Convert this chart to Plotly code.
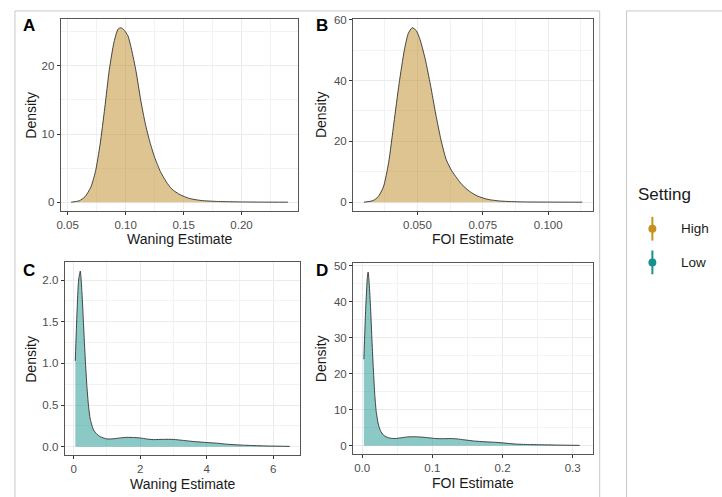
import plotly.graph_objects as go

# ---------------- data ----------------
settings = ["High", "Low"]
setting_colors = ["#C8911E", "#17918D"]

waning_high_x = [0.053, 0.060, 0.065, 0.070, 0.074, 0.078, 0.082, 0.086, 0.090, 0.0935, 0.096, 0.099,
                 0.102, 0.105, 0.109, 0.113, 0.117, 0.121, 0.125, 0.130, 0.135, 0.140, 0.147, 0.155,
                 0.165, 0.180, 0.200, 0.220, 0.240]
waning_high_y = [0, 0.2, 0.8, 2.2, 4.5, 8.5, 13.8, 19.5, 23.5, 25.4, 25.6, 25.2,
                 24.4, 22.5, 19.2, 15.0, 11.5, 8.8, 6.6, 4.5, 3.0, 1.9, 1.1, 0.55,
                 0.25, 0.10, 0.04, 0.01, 0]

foi_high_x = [0.0296, 0.033, 0.035, 0.037, 0.039, 0.041, 0.043, 0.045, 0.0465, 0.048, 0.0495, 0.051,
              0.053, 0.055, 0.057, 0.059, 0.061, 0.063, 0.065, 0.067, 0.070, 0.073, 0.077, 0.082,
              0.090, 0.100, 0.113]
foi_high_y = [0, 0.5, 1.8, 5, 13, 26, 39, 50, 55.5, 57.4, 56.5, 53.5,
              47, 38.5, 29, 20.5, 14, 10.5, 8, 5.8, 3.5, 2.0, 0.9, 0.35,
              0.1, 0.03, 0]

waning_low_x = [0.05, 0.10, 0.15, 0.20, 0.25, 0.30, 0.35, 0.40, 0.45, 0.50, 0.60, 0.70, 0.80, 1.0,
                1.2, 1.4, 1.6, 1.8, 2.0, 2.2, 2.4, 2.7, 3.0, 3.3, 3.6, 4.0, 4.3, 4.6, 5.0, 5.5, 6.0, 6.5]
waning_low_y = [1.03, 1.6, 2.0, 2.107, 1.85, 1.45, 1.05, 0.72, 0.48, 0.33, 0.20, 0.15, 0.12, 0.093,
                0.095, 0.105, 0.112, 0.11, 0.105, 0.092, 0.085, 0.088, 0.087, 0.075, 0.062, 0.05,
                0.042, 0.03, 0.02, 0.012, 0.007, 0.004]

foi_low_x = [0.0024, 0.005, 0.0075, 0.0085, 0.010, 0.012, 0.014, 0.016, 0.018, 0.020, 0.023, 0.026,
             0.030, 0.035, 0.040, 0.047, 0.055, 0.065, 0.075, 0.085, 0.095, 0.105, 0.115, 0.125,
             0.135, 0.145, 0.160, 0.175, 0.190, 0.200, 0.210, 0.220, 0.240, 0.260, 0.280, 0.310]
foi_low_y = [24, 38, 47, 48.2, 45, 38, 29, 21, 14, 9.5, 6.0, 4.2,
             3.0, 2.4, 2.1, 2.0, 2.2, 2.45, 2.5, 2.4, 2.2, 2.0, 1.95, 2.0,
             1.9, 1.65, 1.3, 1.1, 0.95, 0.8, 0.6, 0.45, 0.32, 0.25, 0.18, 0.10]

panel_letters = ["A", "B", "C", "D"]
x_titles = ["Waning Estimate", "FOI Estimate", "Waning Estimate", "FOI Estimate"]
y_title = "Density"

# ---------------- layout geometry (pixels) ----------------
W, H = 722, 497
boxes = [(57, 296, 14, 208), (351, 592, 14, 208), (61, 298, 260, 455), (351, 592, 261, 454)]

def xd(a, b):
    return [a / W, b / W]

def yd(top, bottom):
    return [1 - bottom / H, 1 - top / H]

fills = ["rgba(190,138,35,0.5)", "rgba(24,148,143,0.5)"]
panels = [
    (waning_high_x, waning_high_y, fills[0]),
    (foi_high_x, foi_high_y, fills[0]),
    (waning_low_x, waning_low_y, fills[1]),
    (foi_low_x, foi_low_y, fills[1]),
]

fig = go.Figure()
for i, (xs, ys, fc) in enumerate(panels):
    sfx = "" if i == 0 else str(i + 1)
    fig.add_trace(go.Scatter(
        x=xs, y=ys, mode="lines", fill="tozeroy", fillcolor=fc,
        line=dict(color="#333333", width=0.9, shape="spline", smoothing=0.6),
        xaxis="x" + sfx, yaxis="y" + sfx, showlegend=False, hoverinfo="skip"))

x_ranges = [[0.044, 0.249], [0.0254, 0.117], [-0.27, 6.82], [-0.013, 0.3285]]
y_ranges = [[-1.28, 26.9], [-2.87, 60.3], [-0.105, 2.212], [-2.41, 50.6]]
x_ticks = [(0.05, 0.05, 0.025, ".2f"), (0.05, 0.025, 0.0125, ".3f"), (0, 2, 1, "d"), (0, 0.1, 0.05, ".1f")]
y_ticks = [(0, 10, 5, "d"), (0, 20, 10, "d"), (0, 0.5, 0.25, ".1f"), (0, 10, 5, "d")]

tickfont = dict(family="Liberation Sans, Arial, sans-serif", size=11.5, color="#4D4D4D")
common = dict(showline=True, mirror=True, linecolor="#555555", linewidth=1,
              ticks="outside", ticklen=3, tickcolor="#333333", tickwidth=1,
              showgrid=True, gridcolor="#EBEBEB", gridwidth=1, zeroline=False,
              tickfont=tickfont)

for i, (x0, x1, t, b) in enumerate(boxes):
    sfx = "" if i == 0 else str(i + 1)
    t0, dt, mdt, fx = x_ticks[i]
    ty0, dty, mdty, fy = y_ticks[i]
    fig.layout["xaxis" + sfx] = dict(
        domain=xd(x0, x1), anchor="y" + sfx, range=x_ranges[i],
        tick0=t0, dtick=dt, tickformat=fx,
        minor=dict(tick0=t0, dtick=mdt, showgrid=True, gridcolor="#F2F2F2", gridwidth=0.6, ticks=""),
        **common)
    fig.layout["yaxis" + sfx] = dict(
        domain=yd(t, b), anchor="x" + sfx, range=y_ranges[i],
        tick0=ty0, dtick=dty, tickformat=fy,
        minor=dict(tick0=ty0, dtick=mdty, showgrid=True, gridcolor="#F2F2F2", gridwidth=0.6, ticks=""),
        **common)

annotations = []
title_font = dict(family="Liberation Sans, Arial, sans-serif", size=14, color="#1A1A1A")
letter_pos = [(25, 21), (320, 21), (25, 268), (320, 268)]
ylab_x = [27, 319, 27, 319]
for i, (x0, x1, t, b) in enumerate(boxes):
    annotations.append(dict(x=(x0 + x1) / 2 / W, y=1 - (b + 28.5) / H, xref="paper", yref="paper",
                            text=x_titles[i], showarrow=False, font=title_font,
                            xanchor="center", yanchor="middle"))
    annotations.append(dict(x=ylab_x[i] / W, y=1 - (t + b) / 2 / H, xref="paper", yref="paper",
                            text=y_title, showarrow=False, font=title_font, textangle=-90,
                            xanchor="center", yanchor="middle"))
    lx, ly = letter_pos[i]
    annotations.append(dict(x=lx / W, y=1 - ly / H, xref="paper", yref="paper",
                            text="<b>" + panel_letters[i] + "</b>", showarrow=False,
                            font=dict(family="Liberation Sans, Arial, sans-serif", size=17, color="black"),
                            xanchor="center", yanchor="middle"))

# legend (manual, ggplot style pointrange keys)
annotations.append(dict(x=636 / W, y=1 - 191 / H, xref="paper", yref="paper", text="Setting",
                        showarrow=False, xanchor="left", yanchor="middle",
                        font=dict(family="Liberation Sans, Arial, sans-serif", size=17, color="#1A1A1A")))
shapes = []
leg_y = [226, 260]
for k, name in enumerate(settings):
    cy = leg_y[k]
    annotations.append(dict(x=679 / W, y=1 - cy / H, xref="paper", yref="paper", text=name,
                            showarrow=False, xanchor="left", yanchor="middle",
                            font=dict(family="Liberation Sans, Arial, sans-serif", size=13.5, color="#1A1A1A")))
    shapes.append(dict(type="line", xref="paper", yref="paper", x0=652 / W, x1=652 / W,
                       y0=1 - (cy - 12) / H, y1=1 - (cy + 12) / H,
                       line=dict(color=setting_colors[k], width=2)))
    shapes.append(dict(type="circle", xref="paper", yref="paper", x0=648 / W, x1=656 / W,
                       y0=1 - (cy - 4) / H, y1=1 - (cy + 4) / H,
                       line=dict(color=setting_colors[k], width=0), fillcolor=setting_colors[k]))

# outer frames
shapes.append(dict(type="rect", xref="paper", yref="paper", x0=11 / W, x1=599 / W,
                   y0=-0.05, y1=1 - 6 / H, line=dict(color="#C8C8C8", width=1)))
shapes.append(dict(type="rect", xref="paper", yref="paper", x0=626 / W, x1=1.05,
                   y0=-0.05, y1=1 - 6 / H, line=dict(color="#C8C8C8", width=1)))

fig.update_layout(width=W, height=H, margin=dict(l=0, r=0, t=0, b=0),
                  paper_bgcolor="white", plot_bgcolor="white",
                  annotations=annotations, shapes=shapes, showlegend=False)

fig.write_html("out.html", config={"displayModeBar": False},
               post_script="document.body.style.margin='0';document.body.style.overflow='hidden';")
